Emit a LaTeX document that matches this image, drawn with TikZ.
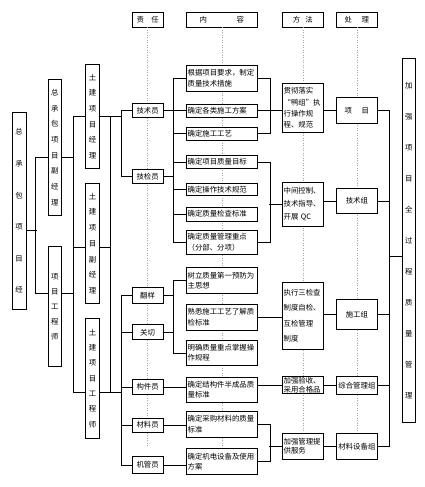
\documentclass[tikz,border=0pt]{standalone}
\usepackage{fontspec}
\newfontfamily\cjk{Noto Sans CJK SC}
\newcommand\zs[1]{\cjk\fontsize{7.4}{#1}\selectfont}
\usetikzlibrary{positioning}

\begin{document}
\begin{tikzpicture}[x=1pt, y=-1pt, line width=0.8pt,
  box/.style={draw, fill=white, anchor=north west},
  shu/.style={box, inner sep=0pt, minimum width=13.6pt, minimum height=#1, align=center},
  hd/.style={box, inner sep=0pt, minimum width=#1, minimum height=15pt, font=\zs{9}},
  zr/.style={box, inner sep=0pt, minimum width=31pt, minimum height=#1, font=\zs{9}},
  nr/.style={box, inner xsep=1.5pt, inner ysep=0pt, text width=68.6pt, minimum height=#1, align=left, font=\zs{10.5}},
  ff/.style={box, inner xsep=1.5pt, inner ysep=0pt, text width=38.6pt, minimum height=#1, align=left},
  cl/.style={box, inner sep=0pt, minimum width=41.6pt, minimum height=#1, font=\zs{9}},
  guide/.style={gray!70, dotted, line width=0.5pt}]
\useasboundingbox (0,0) rectangle (424,487);
% column heads
\node[hd=31pt] (hzr) at (131.7,11.7) {责\hspace{1em}任};
\node[hd=71.6pt] (hnr) at (185.7,11.7) {内\hspace{4em}容};
\node[hd=41.6pt] (hff) at (281.7,11.7) {方\hspace{0.7em}法};
\node[hd=41.6pt] (hcl) at (335.7,11.7) {处\hspace{1.3em}理};
\foreach \h in {hzr,hnr,hff,hcl} \draw[guide] (\h.south) -- ++(0,419);
% managers
\node[shu=197pt, font=\zs{31.6}] (zong) at (12,112) {总\\承\\包\\项\\目\\经};
\node[shu=136pt, font=\zs{15.7}] (fujl) at (47.7,79) {总\\承\\包\\项\\目\\副\\经\\理};
\node[shu=120pt, font=\zs{15}] (gcs) at (47.7,246) {项\\目\\工\\程\\师};
\node[shu=104pt, font=\zs{15.7}] (tj1) at (85.3,64) {土\\建\\项\\目\\经\\理};
\node[shu=120pt, font=\zs{15.7}] (tj2) at (85.3,183) {土\\建\\项\\目\\副\\经\\理};
\node[shu=120pt, font=\zs{15.3}] (tj3) at (85.3,318) {土\\建\\项\\目\\工\\程\\师};
\node[shu=364pt, font=\zs{31}] (jqgl) at (401.7,58.3) {加\\强\\项\\目\\全\\过\\程\\质\\量\\管\\理};
% staff
\node[zr=13.4pt] (jsy) at (131.7,103.3) {技术员};
\node[zr=14pt] (jjy) at (131.7,169) {技检员};
\node[zr=16pt] (fy) at (131.7,287.3) {翻样};
\node[zr=15pt] (gq) at (131.7,324.3) {关切};
\node[zr=15pt] (gjy) at (131.7,379) {构件员};
\node[zr=14pt] (cly) at (131.7,417.7) {材料员};
\node[zr=17pt] (jgy) at (131.7,456) {机管员};
% content
\node[nr=25.7pt] (nr1) at (185.7,65) {根据项目要求，制定\\质量技术措施};
\node[nr=12.7pt] (nr2) at (185.7,104) {确定各类施工方案};
\node[nr=13.3pt] (nr3) at (185.7,126.7) {确定施工工艺};
\node[nr=13.3pt] (nr4) at (185.7,155) {确定项目质量目标};
\node[nr=12.3pt] (nr5) at (185.7,182.7) {确定操作技术规范};
\node[nr=14pt] (nr6) at (185.7,206.7) {确定质量检查标准};
\node[nr=24pt] (nr7) at (185.7,230) {确定质量管理重点\\（分部、分项）};
\node[nr=26.6pt] (nr8) at (185.7,266.7) {树立质量第一预防为\\主思想};
\node[nr=26pt] (nr9) at (185.7,304) {熟悉施工工艺了解质\\检标准};
\node[nr=25pt] (nr10) at (185.7,340) {明确质量重点掌握操\\作规程};
\node[nr=25pt] (nr11) at (185.7,376.7) {确定结构件半成品质\\量标准};
\node[nr=25.7pt] (nr12) at (185.7,411) {确定采购材料的质量\\标准};
\node[nr=25.7pt] (nr13) at (185.7,448.3) {确定机电设备及使用\\方案};
% methods
\node[ff=48.4pt, font=\zs{11.3}] (ff1) at (281.7,83.3) {贯彻落实\\“鸭组”执\\行操作规\\程、规范};
\node[ff=44.3pt, font=\zs{12.8}] (ff2) at (281.7,181.7) {中间控制、\\技术指导、\\开展 QC};
\node[ff=67.6pt, font=\zs{15.5}] (ff3) at (281.7,281.7) {执行三检查\\制度自检、\\互检管理\\制度};
\node[ff=17.3pt, font=\zs{8.6}] (ff4) at (281.7,376) {加强验收、\\采用合格品};
\node[ff=26.6pt, font=\zs{9.5}] (ff5) at (281.7,432.7) {加强管理提\\供服务};
% handling
\node[cl=26pt] (cl1) at (335.7,97.3) {项\hspace{1.3em}目};
\node[cl=24.4pt] (cl2) at (335.7,188.3) {技术组};
\node[cl=30pt] (cl3) at (335.7,299.3) {施工组};
\node[cl=18pt] (cl4) at (335.7,376) {综合管理组};
\node[cl=26pt] (cl5) at (335.7,433.3) {材料设备组};
% managers links
\draw ([yshift=-19.5pt]zong.east) -- ++(10.2,0);
\draw ([yshift=-10pt]fujl.west) -- ++(-12,0) |- ([yshift=13.3pt]gcs.west);
\draw ([yshift=-10pt]fujl.east) -- ++(11.7,0);
\draw ([yshift=13.3pt]gcs.east) -- ++(11.7,0);
\draw (tj1.west) -- ++(-12.3,0) |- ([yshift=-13.7pt]tj3.west);
\draw ([yshift=-3.7pt]tj2.west) -- ++(-12.3,0);
\draw (tj1.east) -- ++(10.7,0) |- ([yshift=-13.7pt]tj3.east);
\draw ([yshift=-3.7pt]tj2.east) -- ++(10.7,0);
\draw (tj1.east) -- ++(21.7,0);
\draw ([yshift=-13.7pt]tj3.east) -- ++(21.7,0);
\draw (jsy.west) -- ++(-10.7,0) |- (jjy.west);
\draw (fy.west) -- ++(-10.7,0) |- (jgy.west);
\foreach \r in {gq,gjy,cly} \draw (\r.west) -- ++(-10.7,0);
% staff to content
\draw (jsy.east) -- (jsy.east -| nr2.west);
\draw (nr1.west) -- ++(-12.4,0) |- (nr7.west);
\foreach \n in {nr3,nr4,nr5,nr6} \draw (\n.west) -- ++(-12.4,0);
\draw (jjy.east) -- ++(10.6,0);
\draw (nr8.west) -- ++(-12.4,0) |- (nr10.west);
\draw (fy.east) -- ++(10.6,0);
\draw (gq.east) -- ++(10.6,0);
\foreach \r/\n in {gjy/nr11, cly/nr12, jgy/nr13} \draw (\r.east) -- (\r.east -| \n.west);
% content to methods
\draw (nr1.east) -- ++(12,0) |- (nr3.east);
\draw (nr2.east) -- (nr2.east -| ff1.west);
\draw (nr4.east) -- ++(12,0) |- (nr7.east);
\draw (ff2.west) -- ++(-12.4,0);
\draw (nr9.east) -- (nr9.east -| ff3.west);
\draw (ff4.west -| nr11.east) -- (ff4.west);
\draw (nr12.east) -- ++(12,0) |- (nr13.east);
\draw (ff5.west) -- ++(-12.4,0);
% methods to handling
\foreach \i in {1,...,5} \draw (cl\i.west -| ff\i.east) -- (cl\i.west);
\draw (cl1.east) -- ++(11.7,0) |- (cl5.east);
\foreach \i in {2,3,4} \draw (cl\i.east) -- ++(11.7,0);
\draw ([yshift=-15.7pt]jqgl.west) -- ++(-12.7,0);
\end{tikzpicture}
\end{document}
